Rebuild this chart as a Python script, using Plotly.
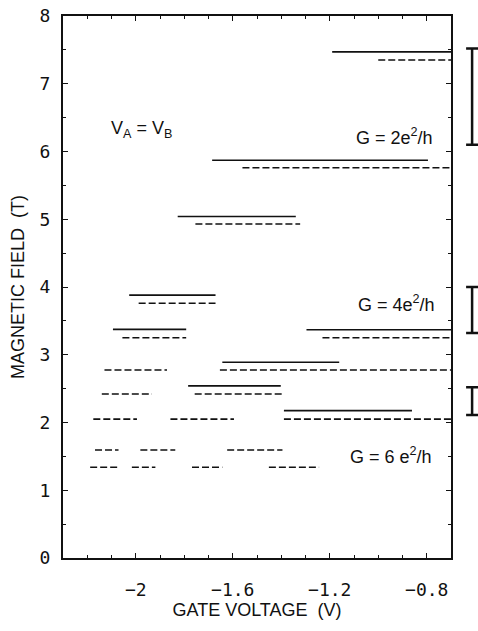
import plotly.graph_objects as go

# ---- data ----
solid_y  = [7.47, 5.87, 5.04, 3.88, 3.375, 3.37, 2.89, 2.54, 2.175]
solid_x0 = [-1.19, -1.685, -1.827, -2.027, -2.094, -1.296, -1.643, -1.784, -1.389]
solid_x1 = [-0.70, -0.795, -1.340, -1.671, -1.792, -0.700, -1.161, -1.402, -0.861]

dash_y  = [7.35, 5.76, 4.93, 3.76, 3.25, 3.25, 2.775, 2.775, 2.42, 2.42,
           2.05, 2.05, 2.05, 1.595, 1.595, 1.595, 1.34, 1.34, 1.34, 1.34]
dash_x0 = [-1.00, -1.56, -1.754, -1.988, -2.055, -1.23, -2.129, -1.653, -2.14, -1.757,
           -2.175, -1.857, -1.389, -2.168, -1.981, -1.623, -2.188, -2.016, -1.768, -1.451]
dash_x1 = [-0.70, -0.70, -1.322, -1.671, -1.792, -0.70, -1.871, -0.70, -1.933, -1.393,
           -1.995, -1.595, -0.70, -2.071, -1.837, -1.395, -2.071, -1.919, -1.643, -1.244]

err_low  = [6.10, 3.32, 2.11]
err_high = [7.52, 4.00, 2.52]
err_x = -0.613

xtick_vals = [-2, -1.6, -1.2, -0.8]
xtick_text = ["\u22122", "\u22121.6", "\u22121.2", "\u22120.8"]
ytick_vals = [0, 1, 2, 3, 4, 5, 6, 7, 8]

labels = [
    ("V<sub>A</sub> = V<sub>B</sub>", -1.975, 6.33),
    ("G = 2e<sup>2</sup>/h", -0.935, 6.22),
    ("G = 4e<sup>2</sup>/h", -0.926, 3.76),
    ("G = 6 e<sup>2</sup>/h", -0.947, 1.52),
]

x_range = [-2.3, -0.7]
y_range = [0, 8]

# ---- figure ----
W, H = 478, 631
ML, MR, MT, MB = 63, 0, 16, 73
plot_w = 388
frac = plot_w / (W - ML - MR)


def segs(ys, x0s, x1s):
    xs, yy = [], []
    for y, a, b in zip(ys, x0s, x1s):
        xs += [a, b, None]
        yy += [y, y, None]
    return xs, yy


fig = go.Figure()
sx, sy = segs(solid_y, solid_x0, solid_x1)
fig.add_trace(go.Scatter(x=sx, y=sy, mode="lines",
                         line=dict(color="#111", width=1.6), showlegend=False,
                         hoverinfo="skip"))
dx, dy = segs(dash_y, dash_x0, dash_x1)
fig.add_trace(go.Scatter(x=dx, y=dy, mode="lines",
                         line=dict(color="#111", width=1.6, dash="7px,3px"),
                         showlegend=False, hoverinfo="skip"))

centers = [(a + b) / 2 for a, b in zip(err_low, err_high)]
halfs = [(b - a) / 2 for a, b in zip(err_low, err_high)]
fig.add_trace(go.Scatter(x=[err_x] * len(centers), y=centers, mode="markers",
                         xaxis="x2", yaxis="y",
                         marker=dict(size=1, color="rgba(0,0,0,0)"),
                         error_y=dict(type="data", array=halfs, symmetric=True,
                                      color="#111", thickness=2.5, width=6),
                         showlegend=False, hoverinfo="skip"))

for txt, x, y in labels:
    fig.add_annotation(x=x, y=y, text=txt, showarrow=False,
                       font=dict(family="Liberation Sans", size=18, color="#111"),
                       xanchor="center", yanchor="middle")

x2_end = x_range[0] + (x_range[1] - x_range[0]) / frac

fig.update_layout(
    width=W, height=H,
    margin=dict(l=ML, r=MR, t=MT, b=MB),
    paper_bgcolor="white", plot_bgcolor="rgba(0,0,0,0)",
    xaxis=dict(domain=[0, frac], range=x_range, anchor="y",
               tickvals=xtick_vals, ticktext=xtick_text,
               ticks="inside", ticklen=5, tickwidth=1.3, tickcolor="#111",
               minor=dict(dtick=0.1, tick0=-2, ticks="inside", ticklen=3,
                          tickwidth=1, tickcolor="#111"),
               showline=True, linecolor="#111", linewidth=2, mirror="ticks",
               showgrid=False, zeroline=False,
               tickfont=dict(family="DejaVu Sans Mono", size=18, color="#111"),
               ticklabelstandoff=14,
               title=dict(text="GATE VOLTAGE \u00a0(V)", standoff=1,
                          font=dict(family="Liberation Sans", size=18, color="#111"))),
    xaxis2=dict(domain=[0, 1], range=[x_range[0], x2_end], anchor="y",
                visible=False, showgrid=False, zeroline=False),
    yaxis=dict(range=y_range, anchor="x", tickvals=ytick_vals,
               ticks="inside", ticklen=5, tickwidth=1.3, tickcolor="#111",
               minor=dict(dtick=0.5, ticks="inside", ticklen=3,
                          tickwidth=1, tickcolor="#111"),
               showline=True, linecolor="#111", linewidth=2, mirror="ticks",
               showgrid=False, zeroline=False,
               tickfont=dict(family="DejaVu Sans Mono", size=18, color="#111"),
               ticklabelstandoff=7,
               title=dict(text="MAGNETIC FIELD \u00a0(T)", standoff=10,
                          font=dict(family="Liberation Sans", size=18, color="#111"))),
)

fig.write_html("out.html")
